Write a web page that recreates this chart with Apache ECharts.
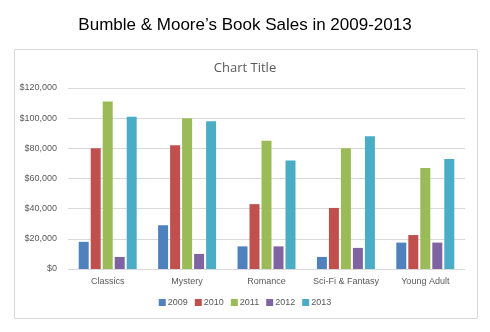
<!DOCTYPE html>
<html><head><meta charset="utf-8">
<script src="https://cdn.jsdelivr.net/npm/echarts@6/dist/echarts.min.js"></script>
<style>html,body{margin:0;padding:0;background:#fff}#c{width:490px;height:332px}</style>
</head><body><div id="c"></div>
<script>
const categories = ['Classics','Mystery','Romance','Sci-Fi & Fantasy','Young Adult'];
const years = ['2009','2010','2011','2012','2013'];
const s2009 = [18000, 29000, 15000, 8000, 17500];
const s2010 = [80000, 82000, 43000, 40500, 22500];
const s2011 = [111000, 100000, 85000, 80000, 67000];
const s2012 = [8000, 10000, 15000, 14000, 17500];
const s2013 = [101000, 98000, 72000, 88000, 73000];
const colors = ['#4F81BD','#C0504D','#9BBB59','#8064A2','#4BACC6'];
const seriesData = [s2009, s2010, s2011, s2012, s2013];

const chart = echarts.init(document.getElementById('c'));
chart.setOption({
  animation: false,
  color: colors,
  title: [
    {text: 'Bumble & Moore’s Book Sales in 2009-2013', left: 'center', top: 12,
     textStyle: {fontFamily: 'Liberation Sans', fontSize: 17, fontWeight: 'normal', color: '#000'}},
    {text: 'Chart Title', left: 'center', top: 57,
     textStyle: {fontFamily: 'Open Sans', fontSize: 13, fontWeight: 'normal', color: '#595959'}}
  ],
  graphic: [{type: 'rect', shape: {x: 14.5, y: 49.5, width: 463, height: 269},
    style: {fill: 'none', stroke: '#d9d9d9', lineWidth: 1}, z: -1}],
  grid: {left: 68, right: 25, top: 88, bottom: 63},
  legend: {
    data: years, bottom: 20, left: 'center', itemWidth: 7, itemHeight: 7, itemGap: 7,
    icon: 'rect', textStyle: {fontFamily: 'Liberation Sans', fontSize: 9, color: '#595959', padding: [0,0,0,-3]}
  },
  xAxis: {
    type: 'category', data: categories,
    axisLine: {lineStyle: {color: '#d9d9d9'}}, axisTick: {show: false},
    axisLabel: {interval: 0, fontFamily: 'Liberation Sans', fontSize: 9, color: '#595959', margin: 8}
  },
  yAxis: {
    type: 'value', min: 0, max: 120000, interval: 20000,
    axisLine: {show: false}, axisTick: {show: false},
    splitLine: {lineStyle: {color: '#d9d9d9'}},
    axisLabel: {fontFamily: 'Liberation Sans', fontSize: 9, color: '#595959', margin: 11,
      formatter: v => '$' + v.toLocaleString('en-US')}
  },
  series: years.map((y, i) => ({
    name: y, type: 'bar', data: seriesData[i], barWidth: 10, barGap: '20%'
  }))
});
</script></body></html>
